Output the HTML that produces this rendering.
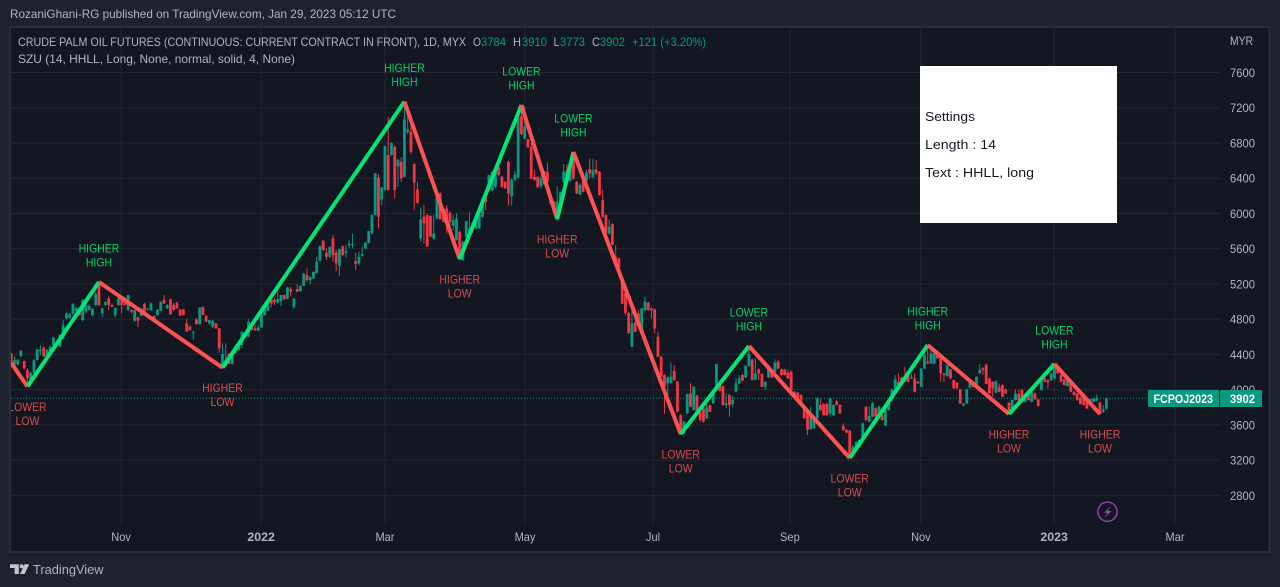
<!DOCTYPE html>
<html lang="en">
<head>
<meta charset="utf-8">
<title>Crude Palm Oil Futures chart</title>
<style>
html,body{margin:0;padding:0;background:#1e222d;width:1280px;height:587px;overflow:hidden}
svg{display:block;font-family:"Liberation Sans",sans-serif}
</style>
</head>
<body>
<svg id="chart" xmlns="http://www.w3.org/2000/svg" width="1280" height="587" viewBox="0 0 1280 587">
  <defs>
    <clipPath id="pane-clip"><rect x="11" y="28" width="1258" height="523"/></clipPath>
  </defs>
  <rect x="0" y="0" width="1280" height="587" fill="#1e222d"/>
  <text x="10" y="18" font-size="12" fill="#b2b5be" textLength="386" lengthAdjust="spacingAndGlyphs">RozaniGhani-RG published on TradingView.com, Jan 29, 2023 05:12 UTC</text>
  <rect x="10" y="27" width="1259.5" height="525" fill="#131722" stroke="#2a2e39" stroke-width="2"/>
  <g id="grid"></g>
  <g id="price-line"></g>
  <g id="candles" clip-path="url(#pane-clip)"></g>
  <g id="zigzag" clip-path="url(#pane-clip)"></g>
  <g id="labels" clip-path="url(#pane-clip)"></g>
  <g id="y-axis"></g>
  <g id="x-axis"></g>

  <g font-size="12">
    <text x="18" y="46" fill="#b2b5be" textLength="448" lengthAdjust="spacingAndGlyphs">CRUDE PALM OIL FUTURES (CONTINUOUS: CURRENT CONTRACT IN FRONT), 1D, MYX</text>
    <text x="473" y="46" fill="#b2b5be" textLength="8" lengthAdjust="spacingAndGlyphs">O</text>
    <text x="481" y="46" fill="#089981" textLength="25" lengthAdjust="spacingAndGlyphs">3784</text>
    <text x="513" y="46" fill="#b2b5be" textLength="8" lengthAdjust="spacingAndGlyphs">H</text>
    <text x="522" y="46" fill="#089981" textLength="25" lengthAdjust="spacingAndGlyphs">3910</text>
    <text x="553.5" y="46" fill="#b2b5be" textLength="6" lengthAdjust="spacingAndGlyphs">L</text>
    <text x="560" y="46" fill="#089981" textLength="25" lengthAdjust="spacingAndGlyphs">3773</text>
    <text x="592" y="46" fill="#b2b5be" textLength="8" lengthAdjust="spacingAndGlyphs">C</text>
    <text x="600" y="46" fill="#089981" textLength="25" lengthAdjust="spacingAndGlyphs">3902</text>
    <text x="632" y="46" fill="#089981" textLength="74" lengthAdjust="spacingAndGlyphs">+121 (+3.20%)</text>
    <text x="18" y="63" fill="#b2b5be" textLength="277" lengthAdjust="spacingAndGlyphs">SZU (14, HHLL, Long, None, normal, solid, 4, None)</text>
  </g>

  <g>
    <rect x="920" y="66" width="197" height="157" fill="#ffffff"/>
    <text x="925" y="121" font-size="13" fill="#131722" textLength="50" lengthAdjust="spacingAndGlyphs">Settings</text>
    <text x="925" y="149" font-size="13" fill="#131722" textLength="71" lengthAdjust="spacingAndGlyphs">Length : 14</text>
    <text x="925" y="177" font-size="13" fill="#131722" textLength="109" lengthAdjust="spacingAndGlyphs">Text : HHLL, long</text>
  </g>

  <g>
    <rect x="1148" y="390" width="71" height="17" rx="1" fill="#089981"/>
    <rect x="1220" y="390" width="42" height="17" rx="1" fill="#089981"/>
    <text x="1153.5" y="403" font-size="12" font-weight="bold" fill="#ffffff" textLength="59.5" lengthAdjust="spacingAndGlyphs">FCPOJ2023</text>
    <text x="1230" y="403" font-size="12" font-weight="bold" fill="#ffffff" textLength="25" lengthAdjust="spacingAndGlyphs">3902</text>
  </g>

  <g>
    <circle cx="1107.5" cy="511.7" r="9.6" fill="none" stroke="#a03fb4" stroke-width="1.4"/>
    <path d="M1111 505.8l-7 7h3.6l-3.2 5.2 7-7h-3.6z" fill="#a03fb4"/>
  </g>

  <g>
    <path d="M10 564.2h8.8v9.8h-4.2v-6h-4.6z" fill="#c3c6ce"/>
    <circle cx="21.6" cy="566.2" r="2" fill="#c3c6ce"/>
    <path d="M24.6 564.2h4.6l-4.6 9.8h-4.6z" fill="#c3c6ce"/>
    <text x="33" y="574" font-size="13" fill="#b2b5be" textLength="70.5" lengthAdjust="spacingAndGlyphs">TradingView</text>
  </g>
</svg>

<script>
const opens = [
4411,4280,4290,4380,4325,4220,4110,4195,4335,4440,
4475,4355,4390,4505,4545,4490,4580,4810,4815,4865,
4890,4910,4790,4885,4905,4845,4960,5220,4865,4960,
5035,4960,4845,4960,5035,5035,4903,4903,4782,4820,
4835,4970,4910,4903,4835,4845,4895,5016,4925,5024,
4960,4985,4910,4910,4752,4714,4646,4797,4744,4933,
4835,4752,4714,4752,4695,4253,4268,4404,4290,4419,
4449,4506,4630,4600,4751,4694,4668,4706,4846,4895,
5027,5016,4986,5005,5073,5031,5141,4937,5141,5118,
5179,5300,5243,5262,5326,5462,5689,5553,5508,5716,
5557,5406,5629,5553,5636,5640,5459,5432,5519,5602,
5667,5773,5981,6408,6159,6265,6662,6662,6756,6537,
6586,6416,6927,6927,6560,6272,5716,5962,5981,5970,
5716,5943,6227,6056,6056,6007,5860,5697,5792,5470,
5735,5750,5894,5830,5830,5962,6189,6265,6265,6302,
6522,6416,6359,6586,6197,6378,6408,7105,6850,6843,
6756,6416,6416,6310,6333,6473,6170,6132,5932,6130,
6359,6492,6370,6690,6359,6215,6370,6370,6503,6416,
6500,6473,6150,5981,5773,5879,5508,5490,5240,5100,
4870,4487,4759,4865,4676,4903,4986,4922,4911,4600,
4373,4165,4071,4078,4211,4090,3711,3503,3730,3957,
3768,3931,3749,3787,3674,3825,3844,4033,4050,4041,
3825,3938,3836,3976,4071,4165,4139,4267,4343,4116,
4230,4177,4033,4139,4230,4203,4317,4230,4230,4192,
4203,3976,3965,3938,3787,3749,3549,3560,3674,3825,
3836,3836,3730,3711,3870,3825,3587,3541,3534,3257,
3314,3352,3435,3806,3636,3692,3787,3674,3711,3590,
3768,3889,4013,4089,4138,4146,4165,4127,4127,4089,
4032,4240,4316,4297,4297,4437,4354,4184,4153,4229,
4108,4078,4002,3824,3843,4021,4089,4032,4184,4240,
4278,4127,4089,3964,4032,4051,4002,3851,3749,3881,
3949,3995,3862,3976,3862,3957,3889,3995,4127,4108,
4108,4127,4240,4165,4116,4040,4089,3976,3957,3911,
3900,3870,3836,3862,3874,3855,3749,3784];
const highs = [
4420,4380,4350,4450,4330,4240,4200,4345,4470,4500,
4490,4460,4500,4600,4560,4620,4790,4875,4870,4985,
4940,4920,5030,4970,4970,4925,5100,5224,4930,5000,
5060,4980,4930,5040,5045,5050,5080,4915,4910,4830,
4925,4985,4925,4990,4845,4915,5000,5073,4970,5035,
4985,5000,4915,4915,4800,4730,4665,4810,4935,4945,
4850,4790,4790,4760,4700,4525,4525,4415,4395,4510,
4530,4660,4640,4800,4770,4744,4744,4860,4925,5030,
5035,5046,5122,5075,5080,5165,5167,5040,5198,5185,
5325,5375,5285,5340,5508,5635,5695,5602,5625,5754,
5584,5600,5635,5640,5697,5773,5553,5565,5621,5675,
5800,5990,6460,6450,6300,6764,7097,6802,6770,6620,
6640,7230,7220,7059,6570,6359,6068,6095,5995,5980,
5981,6215,6240,6065,6095,6030,5981,6000,5800,5680,
5915,6020,5900,5930,5990,6180,6245,6440,6480,6510,
6540,6430,6370,6600,6400,6480,7110,7200,7210,6850,
6800,6500,6420,6430,6480,6580,6190,6140,6310,6245,
6560,6560,6560,6695,6370,6340,6380,6500,6624,6620,
6605,6480,6265,5990,5930,5890,5640,5500,5280,5130,
4880,4940,4800,4900,4930,5055,4995,4930,4920,4657,
4385,4175,4150,4305,4279,4098,3720,3645,3955,4071,
4040,3940,3760,3795,3882,3830,3995,4295,4060,4050,
3957,3950,3928,4127,4165,4175,4275,4487,4350,4355,
4240,4185,4095,4250,4238,4343,4335,4240,4235,4222,
4215,3985,3975,3950,3795,3760,3806,3700,3910,3900,
3845,3850,3910,3830,3880,3835,3617,3555,3545,3370,
3415,3435,3625,3810,3806,3860,3800,3815,3725,3800,
3900,4010,4165,4184,4145,4259,4222,4184,4184,4100,
4245,4467,4505,4456,4449,4445,4360,4190,4316,4235,
4115,4085,4010,3845,4008,4115,4095,4150,4290,4255,
4300,4135,4095,4105,4070,4060,4010,3860,3885,4002,
3995,4013,3945,3985,3995,3965,3895,4108,4135,4115,
4190,4285,4260,4172,4125,4122,4095,3985,3965,3920,
3910,3880,3895,3905,3945,3865,3824,3910];
const lows = [
4255,4270,4270,4370,4230,4050,4100,4180,4330,4390,
4370,4350,4380,4500,4495,4485,4570,4800,4805,4850,
4880,4840,4770,4870,4900,4835,4950,4950,4820,4950,
4900,4935,4820,4950,4865,4950,4895,4865,4770,4714,
4830,4840,4900,4895,4780,4840,4890,4975,4915,4850,
4900,4920,4838,4845,4655,4670,4570,4740,4740,4845,
4770,4740,4700,4690,4420,4250,4260,4290,4285,4410,
4440,4467,4590,4595,4657,4668,4665,4700,4840,4890,
4935,4960,4980,4948,5020,5025,5054,4914,5105,5110,
5175,5224,5198,5255,5320,5455,5575,5470,5500,5451,
5349,5292,5515,5496,5610,5602,5357,5413,5510,5595,
5660,5765,5975,5830,6095,6260,6260,6650,6170,6302,
6359,6410,6900,6673,6038,6110,5678,5659,5622,5735,
5700,5935,5930,5900,5773,5790,5811,5690,5470,5465,
5730,5740,5780,5820,5825,5950,6038,6250,6250,6290,
6420,6290,6280,6090,6090,6370,6400,6890,6840,6745,
6390,6370,6290,6280,6320,6350,6100,6020,5920,6120,
6340,6370,6360,6380,6220,6210,6240,6280,6400,6397,
6440,6200,5950,5770,5760,5640,5430,5380,4971,4850,
4630,4480,4650,4700,4670,4890,4895,4808,4638,4370,
4146,3730,3882,4070,4100,3749,3484,3498,3722,3800,
3760,3705,3636,3625,3665,3745,3838,4028,3980,3820,
3790,3692,3800,3970,4065,4095,4130,4260,4105,4105,
4109,4028,3995,4130,4130,4195,4230,4160,4160,4120,
3990,3895,3895,3840,3670,3484,3545,3555,3668,3760,
3705,3705,3692,3700,3820,3725,3535,3505,3225,3250,
3305,3345,3430,3640,3630,3685,3685,3668,3650,3590,
3760,3870,4005,4045,4065,4085,4085,4120,3970,4065,
4025,4235,4290,4290,4285,4350,4089,4089,4145,4120,
4010,4008,3840,3805,3838,4015,4025,4025,4178,4165,
4063,3955,3919,3958,3970,3915,3952,3722,3740,3875,
3875,3875,3855,3875,3855,3885,3810,3990,4085,4013,
4100,4120,4180,4085,4048,4035,3970,3932,3875,3830,
3820,3780,3830,3855,3870,3718,3735,3773];
const closes = [
4260,4336,4335,4440,4240,4130,4190,4335,4455,4450,
4375,4450,4485,4590,4500,4620,4730,4865,4855,4970,
4925,4845,5015,4960,4950,4920,5085,4960,4920,4995,
4960,4940,4930,5035,4960,4960,5073,4885,4903,4782,
4922,4845,4920,4978,4782,4903,4997,4978,4960,4854,
4903,4922,4840,4846,4657,4676,4657,4744,4933,4846,
4770,4790,4782,4695,4468,4404,4336,4290,4381,4494,
4506,4657,4592,4770,4683,4676,4706,4857,4921,5027,
4978,4993,5027,5073,5027,5160,5107,5035,5111,5179,
5319,5243,5281,5338,5451,5629,5584,5508,5621,5527,
5432,5595,5527,5572,5659,5652,5428,5508,5538,5671,
5800,5981,6454,5962,6295,6764,6265,6802,6265,6605,
6397,7067,6953,6700,6348,6121,5932,5886,5622,5735,
5773,6208,5932,5905,5924,5905,5924,5943,5490,5678,
5913,5830,5811,5924,5981,6170,6132,6435,6473,6500,
6435,6302,6284,6227,6378,6440,7100,6900,6990,6749,
6397,6378,6295,6400,6480,6359,6113,6038,6130,6245,
6473,6370,6548,6397,6227,6322,6246,6465,6454,6492,
6454,6208,5962,5773,5848,5640,5440,5390,4975,4870,
4640,4752,4657,4714,4922,4998,4903,4903,4695,4373,
4146,4033,4139,4146,4109,3749,3541,3636,3950,3806,
4033,3711,3655,3636,3798,3749,3976,4290,3985,3825,
3844,3825,3882,4071,4127,4101,4271,4404,4109,4184,
4184,4033,4090,4241,4139,4309,4241,4165,4165,4127,
3995,3901,3901,3844,3674,3541,3711,3692,3901,3768,
3711,3711,3901,3825,3825,3730,3541,3511,3239,3352,
3409,3428,3617,3655,3700,3844,3692,3806,3654,3768,
3881,4002,4116,4051,4070,4089,4089,4138,3976,4070,
4240,4392,4297,4411,4418,4354,4184,4165,4278,4127,
4013,4013,3843,3843,4002,4108,4032,4146,4222,4222,
4063,3957,4013,4097,3976,3919,3957,3722,3881,3957,
3881,3881,3938,3881,3976,3889,3813,4100,4089,4082,
4184,4278,4184,4089,4051,4116,3976,3938,3881,3836,
3824,3786,3889,3900,3900,3722,3775,3902];

const zigzagIndex = [0,5,27,65,121,138,157,168,173,206,227,258,282,307,321,335];
const zigzagPrice = [4302,4035,5222,4249,7269,5483,7231,5937,6698,3496,4495,3224,4507,3723,4291,3723];
const pivotFirstWord = ["","LOWER","HIGHER","HIGHER","HIGHER","HIGHER","LOWER","HIGHER","LOWER","LOWER","LOWER","LOWER","HIGHER","HIGHER","LOWER","HIGHER"];
const pivotSecondWord = ["","LOW","HIGH","LOW","HIGH","LOW","HIGH","LOW","HIGH","LOW","HIGH","LOW","HIGH","LOW","HIGH","LOW"];

const priceTicks = [7600,7200,6800,6400,6000,5600,5200,4800,4400,4000,3600,3200,2800];
const timeLabels = ["Nov","2022","Mar","May","Jul","Sep","Nov","2023","Mar"];
const timeTickIndex = [33.8,76.9,115,158.1,197.5,239.6,279.9,320.9,358.1];
const majorTimeLabels = ["2022","2023"];
const lastPrice = 3902;

const SVG_NS = "http://www.w3.org/2000/svg";
const BAR_STEP = 3.25;
const BAR_ORIGIN = 11.2;
const CANDLE_WIDTH = 2.8;
const PANE_LEFT = 11;
const PANE_RIGHT = 1220;
const TIME_GRID_BOTTOM = 524;

function xScale(index) { return BAR_ORIGIN + index * BAR_STEP; }
function yScale(price) { return 72.5 + (7600 - price) * 0.08809; }

function make(tag, attrs, parent) {
  const el = document.createElementNS(SVG_NS, tag);
  Object.keys(attrs).forEach(function (k) { el.setAttribute(k, attrs[k]); });
  parent.appendChild(el);
  return el;
}
function squeeze(el, factor) {
  el.setAttribute("textLength", (el.getComputedTextLength() * factor).toFixed(1));
  el.setAttribute("lengthAdjust", "spacingAndGlyphs");
}

const gridGroup = document.getElementById("grid");
const yAxisGroup = document.getElementById("y-axis");
const xAxisGroup = document.getElementById("x-axis");
const priceLineGroup = document.getElementById("price-line");
const candleGroup = document.getElementById("candles");
const zigzagGroup = document.getElementById("zigzag");
const labelGroup = document.getElementById("labels");

priceTicks.forEach(function (tick) {
  const y = yScale(tick);
  const line = make("line", { x1: PANE_LEFT, x2: PANE_RIGHT, y1: y, y2: y, stroke: "#242834", "stroke-width": 1 }, gridGroup);
  
  
  const label = make("text", { x: 1230, y: y + 4.5, "font-size": 12, fill: "#b2b5be" }, yAxisGroup);
  
  
  label.textContent = tick;
  label.setAttribute("textLength", "25");
  label.setAttribute("lengthAdjust", "spacingAndGlyphs");
});

const currencyLabel = make("text", { x: 1230, y: 45, "font-size": 12, fill: "#b2b5be" }, yAxisGroup);


currencyLabel.textContent = "MYR";
currencyLabel.setAttribute("textLength", "23");
currencyLabel.setAttribute("lengthAdjust", "spacingAndGlyphs");

timeLabels.forEach(function (name, i) {
  const x = xScale(timeTickIndex[i]);
  const major = majorTimeLabels.indexOf(name) >= 0;
  const line = make("line", { x1: x, x2: x, y1: 28, y2: TIME_GRID_BOTTOM, stroke: "#242834", "stroke-width": 1 }, gridGroup);
  
  
  const label = make("text", { x: x, y: 541, "font-size": 12, fill: "#b2b5be", "text-anchor": "middle", "font-weight": major ? "bold" : "normal" }, xAxisGroup);
  
  
  label.textContent = name;
  squeeze(label, major ? 1.03 : 0.92);
});

const lastLine = make("line", { x1: PANE_LEFT, x2: 1148, y1: yScale(lastPrice), y2: yScale(lastPrice), stroke: "#089981", "stroke-width": 1, "stroke-dasharray": "1 2" }, priceLineGroup);



closes.forEach(function (close, i) {
  const x = xScale(i);
  const open = opens[i];
  const color = close >= open ? "#089981" : "#f23645";
  const wick = make("line", { x1: x, x2: x, y1: yScale(highs[i]), y2: yScale(lows[i]), stroke: color, "stroke-width": 1 }, candleGroup);
  
  
  const top = yScale(Math.max(open, close));
  const height = Math.max(1, yScale(Math.min(open, close)) - top);
  const body = make("rect", { x: x - CANDLE_WIDTH / 2, y: top, width: CANDLE_WIDTH, height: height, fill: color }, candleGroup);
  
  
});

zigzagPrice.forEach(function (price, i) {
  if (i === 0) return;
  const prev = zigzagPrice[i - 1];
  const up = price > prev;
  const seg = make("line", {
    x1: xScale(zigzagIndex[i - 1]), y1: yScale(prev),
    x2: xScale(zigzagIndex[i]), y2: yScale(price),
    stroke: up ? "#00e676" : "#ff5252", "stroke-width": 4, "stroke-linecap": "butt"
  }, zigzagGroup);
  
  
  const x = xScale(zigzagIndex[i]);
  const y = yScale(price);
  const color = up ? "#00d46a" : "#d84c50";
  const line1 = make("text", { x: x, y: up ? y - 29.5 : y + 24.5, "font-size": 12, fill: color, "text-anchor": "middle" }, labelGroup);
  
  
  line1.textContent = pivotFirstWord[i];
  squeeze(line1, 0.87);
  const line2 = make("text", { x: x, y: up ? y - 15.5 : y + 38.5, "font-size": 12, fill: color, "text-anchor": "middle" }, labelGroup);
  
  
  line2.textContent = pivotSecondWord[i];
  squeeze(line2, 0.87);
});
</script>
</body>
</html>
